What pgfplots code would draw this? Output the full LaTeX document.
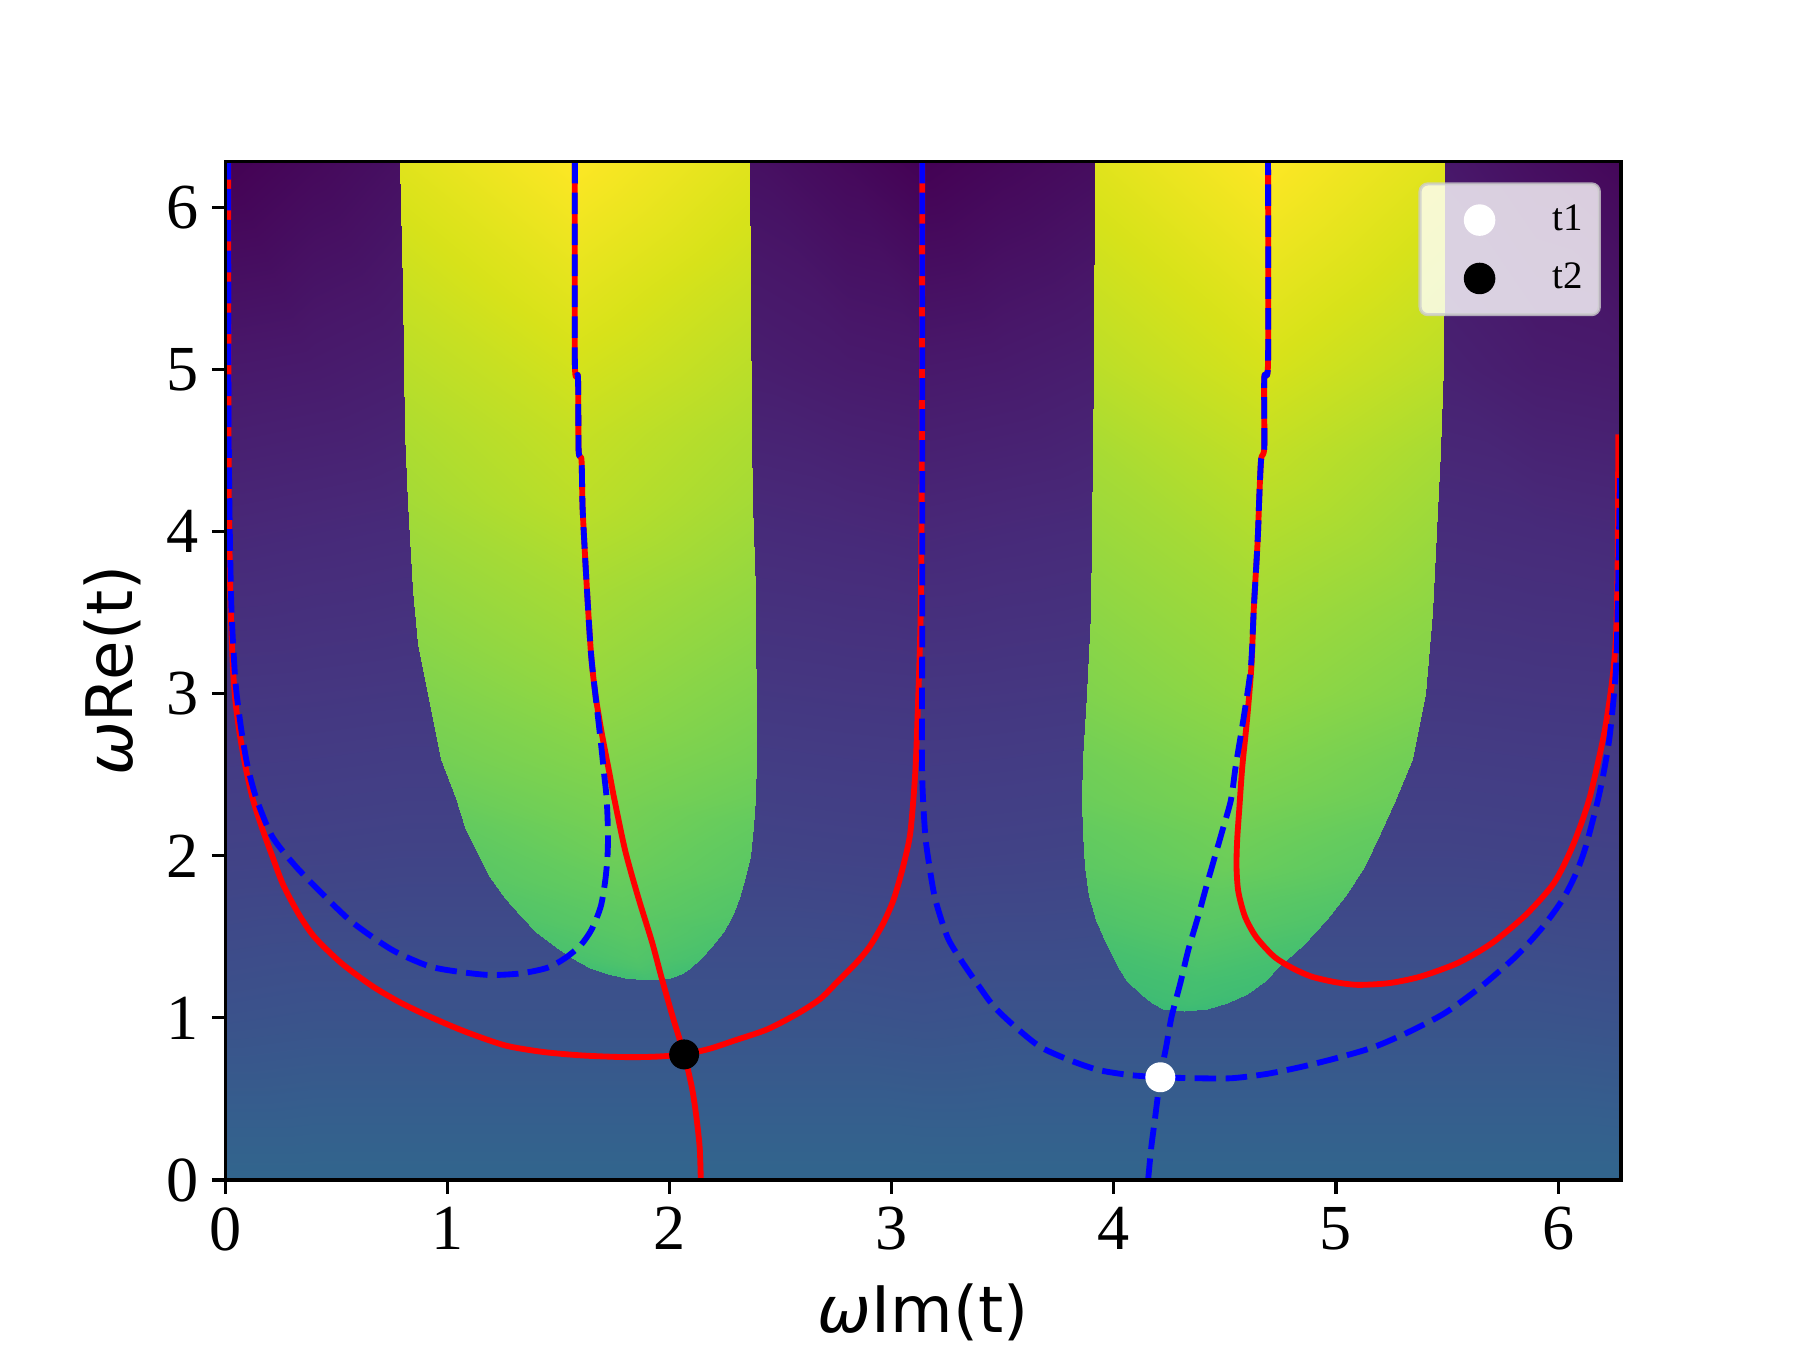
\documentclass[border=0pt]{standalone}
\usepackage{fontspec}
\setmainfont{Liberation Serif}
\newfontfamily\dejavu{DejaVu Sans}
\usepackage{pgfplots}
\usepackage{pgfplotstable}
\pgfplotsset{compat=1.18}

% background field, rows of constant y
\pgfplotstableread{
x y c
0 0 0.325
0.4 0 0.325
0.8 0 0.325
1.6 0 0.325
2.4 0 0.325
2.8 0 0.325
3.1416 0 0.325
3.5 0 0.325
3.9 0 0.325
4.7 0 0.325
5.5 0 0.325
5.9 0 0.325
6.2832 0 0.325
0 1 0.25
0.4 1 0.255
0.8 1 0.255
1.6 1 0.255
2.4 1 0.255
2.8 1 0.255
3.1416 1 0.25
3.5 1 0.255
3.9 1 0.255
4.7 1 0.255
5.5 1 0.255
5.9 1 0.255
6.2832 1 0.25
0 2 0.195
0.4 2 0.197
0.8 2 0.2
1.6 2 0.2
2.4 2 0.2
2.8 2 0.197
3.1416 2 0.195
3.5 2 0.197
3.9 2 0.2
4.7 2 0.2
5.5 2 0.2
5.9 2 0.197
6.2832 2 0.195
0 3 0.155
0.4 3 0.157
0.8 3 0.16
1.6 3 0.16
2.4 3 0.16
2.8 3 0.157
3.1416 3 0.155
3.5 3 0.157
3.9 3 0.16
4.7 3 0.16
5.5 3 0.16
5.9 3 0.157
6.2832 3 0.155
0 4 0.11
0.4 4 0.115
0.8 4 0.12
1.6 4 0.12
2.4 4 0.12
2.8 4 0.115
3.1416 4 0.11
3.5 4 0.115
3.9 4 0.12
4.7 4 0.125
5.5 4 0.125
5.9 4 0.12
6.2832 4 0.115
0 5 0.065
0.4 5 0.07
0.8 5 0.08
1.6 5 0.09
2.4 5 0.08
2.8 5 0.07
3.1416 5 0.065
3.5 5 0.07
3.9 5 0.08
4.7 5 0.09
5.5 5 0.09
5.9 5 0.075
6.2832 5 0.07
0 6.2832 0.0
0.4 6.2832 0.02
0.8 6.2832 0.04
1.6 6.2832 0.05
2.4 6.2832 0.04
2.8 6.2832 0.02
3.1416 6.2832 0.0
3.5 6.2832 0.015
3.9 6.2832 0.03
4.7 6.2832 0.05
5.5 6.2832 0.06
5.9 6.2832 0.035
6.2832 6.2832 0.015
}\bgtable

% left lobe: left edge, middle, right edge for each y
\pgfplotstableread{
x y c
1.90 1.235 0.70
1.90 1.235 0.70
1.90 1.235 0.70
1.80 1.245 0.695
1.90 1.245 0.705
2.00 1.245 0.695
1.72 1.27 0.695
1.885 1.27 0.71
2.05 1.27 0.695
1.64 1.31 0.70
1.865 1.31 0.72
2.09 1.31 0.70
1.56 1.37 0.71
1.85 1.37 0.73
2.14 1.37 0.71
1.49 1.44 0.715
1.835 1.44 0.735
2.185 1.44 0.715
1.40 1.53 0.72
1.82 1.53 0.745
2.24 1.53 0.72
1.33 1.63 0.73
1.80 1.63 0.75
2.28 1.63 0.73
1.26 1.74 0.735
1.785 1.74 0.76
2.31 1.74 0.735
1.19 1.87 0.745
1.77 1.87 0.77
2.34 1.87 0.745
1.14 2.0 0.75
1.75 2.0 0.78
2.36 2.0 0.75
1.08 2.18 0.76
1.73 2.18 0.79
2.375 2.18 0.76
1.036 2.355 0.775
1.71 2.355 0.80
2.385 2.355 0.775
0.97 2.6 0.79
1.68 2.6 0.815
2.39 2.6 0.79
0.91 3.0 0.81
1.65 3.0 0.84
2.388 3.0 0.81
0.868 3.31 0.825
1.627 3.31 0.855
2.386 3.31 0.825
0.845 3.64 0.84
1.61 3.64 0.87
2.382 3.64 0.84
0.82 4.18 0.865
1.60 4.18 0.90
2.372 4.18 0.865
0.81 4.61 0.88
1.59 4.61 0.915
2.368 4.61 0.88
0.797 5.50 0.92
1.58 5.50 0.96
2.362 5.50 0.92
0.785 6.2832 0.955
1.57 6.2832 1.0
2.358 6.2832 0.955
}\lobeA

% right lobe
\pgfplotstableread{
x y c
4.314 1.04 0.68
4.314 1.04 0.68
4.314 1.04 0.68
4.22 1.055 0.68
4.32 1.055 0.685
4.42 1.055 0.68
4.17 1.09 0.685
4.34 1.09 0.695
4.51 1.09 0.685
4.12 1.15 0.69
4.36 1.15 0.70
4.60 1.15 0.69
4.06 1.23 0.695
4.37 1.23 0.705
4.68 1.23 0.695
4.02 1.317 0.70
4.38 1.317 0.715
4.74 1.317 0.70
3.97 1.45 0.71
4.40 1.45 0.73
4.85 1.45 0.71
3.92 1.605 0.725
4.44 1.605 0.745
4.954 1.605 0.725
3.887 1.75 0.735
4.46 1.75 0.755
5.04 1.75 0.735
3.87 1.934 0.75
4.50 1.934 0.775
5.125 1.934 0.75
3.86 2.14 0.76
4.53 2.14 0.785
5.20 2.14 0.76
3.855 2.346 0.775
4.56 2.346 0.80
5.264 2.346 0.775
3.86 2.6 0.785
4.59 2.6 0.815
5.34 2.6 0.785
3.88 3.0 0.81
4.64 3.0 0.84
5.40 3.0 0.81
3.895 3.5 0.83
4.66 3.5 0.86
5.43 3.5 0.83
3.905 4.5 0.87
4.69 4.5 0.91
5.47 4.5 0.87
3.909 5.02 0.90
4.70 5.02 0.94
5.48 5.02 0.90
3.917 6.2832 0.955
4.70 6.2832 1.0
5.49 6.2832 0.955
}\lobeB

\begin{document}
\begin{tikzpicture}
\path[use as bounding box] (0,0) rectangle (6.4in,4.8in);
\begin{axis}[
  at={(0.8018in,0.6044in)}, anchor=south west,
  scale only axis, width=4.9618in, height=3.6207in,
  xmin=0, xmax=6.2832, ymin=0, ymax=6.2832,
  xtick={0,1,...,6}, ytick={0,1,...,6},
  tick pos=left, tick align=outside, major tick length=3.5pt,
  every tick/.style={black, line width=0.8pt},
  axis line style={line width=0.8pt},
  axis on top,
  colormap/viridis, point meta min=0, point meta max=1,
  /pgf/number format/assume math mode=true,
  tick label style={font=\fontsize{16.5}{19}\selectfont},
  xlabel={{\itshape ω}Im(t)},
  ylabel={{\itshape ω}Re(t)},
  every axis x label/.style={at={([yshift=-39.2pt]axis description cs:0.5,0)},
    anchor=base, font=\fontsize{16.5}{19}\selectfont\dejavu},
  every axis y label/.style={at={([xshift=-24pt]axis description cs:0,0.5)},
    anchor=base, rotate=90, font=\fontsize{16.5}{19}\selectfont\dejavu},
  legend style={at={(0.9856,0.9797)}, anchor=north east,
    fill=white, fill opacity=0.8, draw=black!20, draw opacity=0.8, text opacity=1,
    rounded corners=2pt, line width=0.8pt,
    inner xsep=4.3pt, inner ysep=4.3pt, row sep=5pt, column sep=7.7pt,
    font=\fontsize{10}{12}\selectfont, nodes={inner sep=0pt}, cells={anchor=west}},
  legend image code/.code={
    \path[draw=none, fill=none] (0pt,-5pt) rectangle (22pt,5pt);
    \draw[mark repeat=2, mark phase=2, #1, fill opacity=1, draw opacity=1]
      plot coordinates {(0pt,0pt) (11pt,0pt) (22pt,0pt)};},
  every axis plot post/.append style={line join=round},
]
\addplot[surf, shader=interp, mesh/cols=13, point meta=explicit, forget plot]
  table[x=x, y=y, meta=c] {\bgtable};
\addplot[surf, shader=interp, mesh/cols=3, point meta=explicit, forget plot]
  table[x=x, y=y, meta=c] {\lobeA};
\addplot[surf, shader=interp, mesh/cols=3, point meta=explicit, forget plot]
  table[x=x, y=y, meta=c] {\lobeB};

% solid red curves
\addplot[red, line width=1.5pt, smooth, tension=0.45, forget plot] coordinates {
(0.012,6.2832)(0.013,5.0)(0.015,4.2)(0.022,3.6)(0.033,3.17)(0.045,2.95)(0.063,2.76)
(0.09,2.55)(0.123,2.35)(0.165,2.17)(0.21,2.0)(0.26,1.82)(0.33,1.64)(0.40,1.50)
(0.52,1.34)(0.657,1.20)(0.78,1.10)(0.916,1.01)(1.08,0.915)(1.26,0.83)(1.43,0.79)
(1.60,0.769)(1.75,0.76)(1.845,0.758)(1.95,0.762)(2.065,0.775)(2.18,0.81)(2.29,0.86)
(2.44,0.93)(2.58,1.03)(2.68,1.12)(2.76,1.23)(2.84,1.34)(2.90,1.44)(2.96,1.58)
(3.008,1.73)(3.05,1.93)(3.083,2.14)(3.105,2.5)(3.116,2.86)(3.13,3.5)(3.135,4.5)(3.137,6.2832)};
\addplot[red, line width=1.5pt, smooth, tension=0.45, forget plot] coordinates {
(1.573,6.2832)(1.573,5.04)(1.587,4.95)(1.590,4.50)(1.603,4.44)(1.608,4.14)(1.625,3.7)
(1.645,3.26)(1.665,3.0)(1.695,2.75)(1.73,2.5)(1.75,2.355)(1.80,2.03)(1.86,1.736)
(1.92,1.47)(1.965,1.24)(2.015,1.0)(2.065,0.775)(2.10,0.57)(2.12,0.39)(2.135,0.2)(2.14,0)};
\addplot[red, line width=1.5pt, smooth, tension=0.45, forget plot] coordinates {
(4.694,6.2832)(4.694,5.05)(4.677,4.95)(4.677,4.52)(4.663,4.45)(4.655,4.23)(4.647,3.94)
(4.63,3.53)(4.619,3.17)(4.60,2.85)(4.578,2.55)(4.565,2.3)(4.555,2.1)(4.552,1.934)
(4.56,1.78)(4.59,1.626)(4.64,1.50)(4.72,1.38)(4.80,1.31)(4.89,1.255)(5.0,1.22)
(5.10,1.204)(5.24,1.215)(5.38,1.255)(5.55,1.34)(5.70,1.46)(5.85,1.63)(5.98,1.83)
(6.065,2.06)(6.14,2.35)(6.208,2.76)(6.245,3.1)(6.261,3.37)(6.268,3.8)(6.271,4.60)};

% dashed blue curves
\addplot[blue, line width=1.5pt, dash pattern=on 5.55pt off 2.4pt, smooth, tension=0.45, forget plot] coordinates {
(1.573,6.2832)(1.573,5.04)(1.587,4.95)(1.590,4.50)(1.603,4.44)(1.608,4.14)(1.625,3.7)
(1.645,3.26)(1.665,3.0)(1.69,2.7)(1.705,2.5)(1.716,2.355)(1.722,2.15)(1.72,2.0)
(1.71,1.85)(1.69,1.69)(1.65,1.55)(1.60,1.45)(1.53,1.37)(1.45,1.31)(1.33,1.275)
(1.19,1.265)(1.05,1.285)(0.915,1.32)(0.75,1.42)(0.571,1.59)(0.44,1.76)(0.313,1.94)
(0.21,2.12)(0.14,2.35)(0.10,2.55)(0.073,2.76)(0.05,3.0)(0.04,3.17)(0.025,3.6)
(0.015,4.5)(0.012,6.2832)};
\addplot[blue, line width=1.5pt, dash pattern=on 5.55pt off 2.4pt, smooth, tension=0.45, forget plot] coordinates {
(3.137,6.2832)(3.137,3.5)(3.136,2.55)(3.15,2.14)(3.17,1.93)(3.196,1.73)(3.25,1.50)
(3.31,1.36)(3.38,1.22)(3.46,1.07)(3.56,0.94)(3.67,0.82)(3.80,0.74)(3.93,0.679)
(4.07,0.648)(4.21,0.634)(4.37,0.628)(4.53,0.628)(4.69,0.655)(4.85,0.70)(5.01,0.755)
(5.17,0.82)(5.33,0.915)(5.49,1.03)(5.65,1.19)(5.81,1.38)(5.93,1.56)(6.02,1.73)
(6.08,1.89)(6.125,2.06)(6.18,2.35)(6.21,2.55)(6.234,2.76)(6.261,3.17)(6.272,3.8)(6.278,4.33)};
\addplot[blue, line width=1.5pt, dash pattern=on 5.55pt off 2.4pt, smooth, tension=0.45, forget plot] coordinates {
(4.154,0)(4.168,0.2)(4.186,0.39)(4.209,0.634)(4.235,0.82)(4.26,1.01)(4.30,1.22)
(4.335,1.42)(4.38,1.63)(4.42,1.83)(4.485,2.14)(4.527,2.346)(4.548,2.55)(4.585,2.86)
(4.617,3.17)(4.63,3.53)(4.647,3.94)(4.655,4.23)(4.663,4.45)(4.677,4.52)(4.677,4.95)
(4.694,5.05)(4.694,6.2832)};

\addplot[only marks, mark=*, mark size=3.65pt, color=white] coordinates {(4.209,0.634)};
\addlegendentry{t1}
\addplot[only marks, mark=*, mark size=3.65pt, color=black] coordinates {(2.065,0.775)};
\addlegendentry{t2}
\end{axis}
\end{tikzpicture}
\end{document}
